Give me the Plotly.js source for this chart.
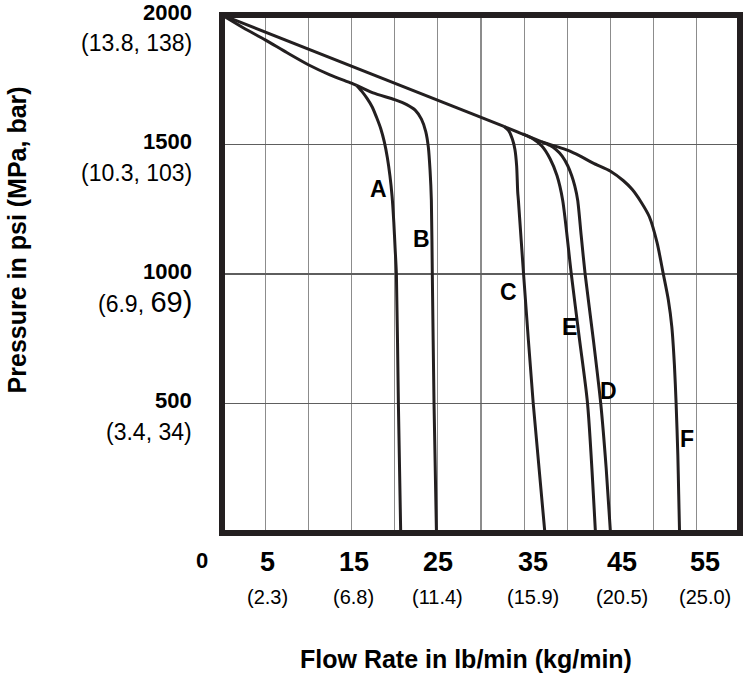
<!DOCTYPE html>
<html>
<head>
<meta charset="utf-8">
<script src="https://cdn.plot.ly/plotly-3.0.1.min.js"></script>
<style>html,body{margin:0;padding:0;background:#fff;}#chart{width:743px;height:675px;}</style>
</head>
<body>
<div id="chart"></div>
<script>
// ---- Data (flow rate lb/min, pressure psi) ----
var curveNames = ['A', 'B', 'C', 'D', 'E', 'F'];

var lowerEnvX = [0, 2.5, 5, 7.5, 10, 12.5, 15, 15.6];
var lowerEnvY = [2000, 1950, 1904, 1855, 1808, 1769, 1737, 1728];

var curveA_x = [15.6, 16.2, 16.8, 17.4, 17.9, 18.4, 18.8, 19.15, 19.45, 19.7, 19.9, 20.05, 20.2, 20.43, 20.7];
var curveA_y = [1728, 1705, 1678, 1645, 1605, 1560, 1510, 1450, 1380, 1300, 1200, 1100, 1000, 500, 0];

var curveB_x = [15.6, 17.5, 20.0, 21.4, 22.4, 23.1, 23.6, 23.9, 24.1, 24.25, 24.36, 24.56, 24.84];
var curveB_y = [1728, 1699, 1673, 1654, 1632, 1598, 1550, 1490, 1400, 1285, 1000, 500, 0];

var upperLineX = [0, 32.65];
var upperLineY = [2000, 1570];

var curveC_x = [32.65, 33.25, 33.65, 33.93, 34.13, 34.25, 34.33, 34.93, 36.05, 37.4];
var curveC_y = [1570, 1551, 1519, 1481, 1417, 1318, 1285, 1000, 500, 0];

var curveE_x = [32.65, 34.85, 36.0, 37.05, 38.0, 38.8, 39.46, 40.46, 41.4, 42.34, 43.26];
var curveE_y = [1570, 1540, 1522, 1494, 1445, 1380, 1285, 1000, 750, 500, 0];

var curveD_x = [34.85, 37.05, 38.0, 38.66, 39.4, 40.06, 40.5, 40.86, 41.2, 41.6, 42.06, 43.0, 43.87, 44.5, 45.0];
var curveD_y = [1540, 1510, 1496, 1481, 1455, 1417, 1380, 1340, 1285, 1150, 1000, 750, 500, 250, 0];

var curveF_x = [37.05, 40.0, 41.5, 43.0, 45.0, 46.5, 47.5, 48.5, 49.5, 50.4, 51.1, 51.7, 52.1, 52.4, 52.6, 52.8, 52.9, 53.0];
var curveF_y = [1510, 1478, 1455, 1428, 1397, 1360, 1327, 1280, 1221, 1120, 1003, 900, 797, 650, 500, 300, 150, 0];

var labelX = [18.1, 23.07, 33.17, 44.79, 40.26, 53.88];
var labelY = [1329, 1135, 932, 550, 797, 362];

var yTickVals = [2000, 1500, 1000, 500];
var yTickBold = ['2000', '1500', '1000', '500'];
var yTickSub = ['(13.8, 138)', '(10.3, 103)', '(6.9, <span style="font-size:29px">69)</span>', '(3.4, 34)'];

var xTickVals = [5, 15, 25, 35, 45, 55];
var xTickBold = ['5', '15', '25', '35', '45', '55'];
var xTickSub = ['(2.3)', '(6.8)', '(11.4)', '(15.9)', '(20.5)', '(25.0)'];

var xTitle = 'Flow Rate in lb/min (kg/min)';
var yTitle = 'Pressure in psi (MPa, bar)';

// ---- Styles ----
var FONT = 'Liberation Sans, Arial, Helvetica, sans-serif';
var INK = '#231f20';
var xLabelShift = [2, 2, 0, 9, 11, 8];

function seg(x, y) {
  return {x: x, y: y, type: 'scatter', mode: 'lines', hoverinfo: 'skip', showlegend: false,
          line: {color: INK, width: 3, shape: 'spline', smoothing: 0.7}};
}

var traces = [
  seg(lowerEnvX, lowerEnvY),
  seg(upperLineX, upperLineY),
  seg(curveA_x, curveA_y),
  seg(curveB_x, curveB_y),
  seg(curveC_x, curveC_y),
  seg(curveE_x, curveE_y),
  seg(curveD_x, curveD_y),
  seg(curveF_x, curveF_y)
];

var annotations = [];
curveNames.forEach(function (n, i) {
  annotations.push({x: labelX[i], y: labelY[i], xref: 'x', yref: 'y', text: '<b>' + n + '</b>',
    showarrow: false, xanchor: 'center', yanchor: 'middle', font: {family: FONT, size: 23, color: '#000'}});
});
yTickVals.forEach(function (v, i) {
  annotations.push({x: -0.054, y: v, xref: 'paper', yref: 'y', text: '<b>' + yTickBold[i] + '</b>',
    showarrow: false, xanchor: 'right', yanchor: 'middle', yshift: 3, font: {family: FONT, size: 22, color: '#000'}});
  annotations.push({x: -0.054, y: v, xref: 'paper', yref: 'y', text: yTickSub[i],
    showarrow: false, xanchor: 'right', yanchor: 'middle', yshift: -28, font: {family: FONT, size: 23, color: '#000'}});
});
xTickVals.forEach(function (v, i) {
  annotations.push({x: v, y: -0.056, xref: 'x', yref: 'paper', text: '<b>' + xTickBold[i] + '</b>',
    showarrow: false, xanchor: 'center', yanchor: 'middle', xshift: xLabelShift[i], font: {family: FONT, size: 27, color: '#000'}});
  annotations.push({x: v, y: -0.1236, xref: 'x', yref: 'paper', text: xTickSub[i],
    showarrow: false, xanchor: 'center', yanchor: 'middle', xshift: xLabelShift[i], font: {family: FONT, size: 20, color: '#000'}});
});
annotations.push({x: 0, y: -0.054, xref: 'x', yref: 'paper', text: '<b>0</b>', showarrow: false,
  xanchor: 'center', yanchor: 'middle', xshift: -20, font: {family: FONT, size: 22, color: '#000'}});
annotations.push({x: 0.471, y: -0.243, xref: 'paper', yref: 'paper', text: '<b>' + xTitle + '</b>', showarrow: false,
  xanchor: 'center', yanchor: 'middle', font: {family: FONT, size: 25, color: '#000'}});
annotations.push({x: -0.395, y: 0.5656, xref: 'paper', yref: 'paper', text: '<b>' + yTitle + '</b>', showarrow: false,
  textangle: -90, xanchor: 'center', yanchor: 'middle', font: {family: FONT, size: 25, color: '#000'}});

var layout = {
  width: 743, height: 675,
  margin: {l: 222, r: 3, t: 15, b: 142, pad: 0},
  paper_bgcolor: '#fff', plot_bgcolor: '#fff',
  showlegend: false,
  xaxis: {range: [0, 60], tick0: 0, dtick: 5, showgrid: true, gridcolor: '#8c8c8c', gridwidth: 1.3,
          showticklabels: false, ticks: '', zeroline: false, showline: false, fixedrange: true},
  yaxis: {range: [0, 2000], tick0: 0, dtick: 500, showgrid: true, gridcolor: '#5e5e5e', gridwidth: 1.5,
          showticklabels: false, ticks: '', zeroline: false, showline: false, fixedrange: true},
  shapes: [{type: 'rect', xref: 'paper', yref: 'paper', x0: 0, x1: 1, y0: 0, y1: 1,
            line: {color: INK, width: 6}, layer: 'above'}],
  annotations: annotations
};

Plotly.newPlot('chart', traces, layout, {staticPlot: true, displayModeBar: false});
</script>
</body>
</html>
